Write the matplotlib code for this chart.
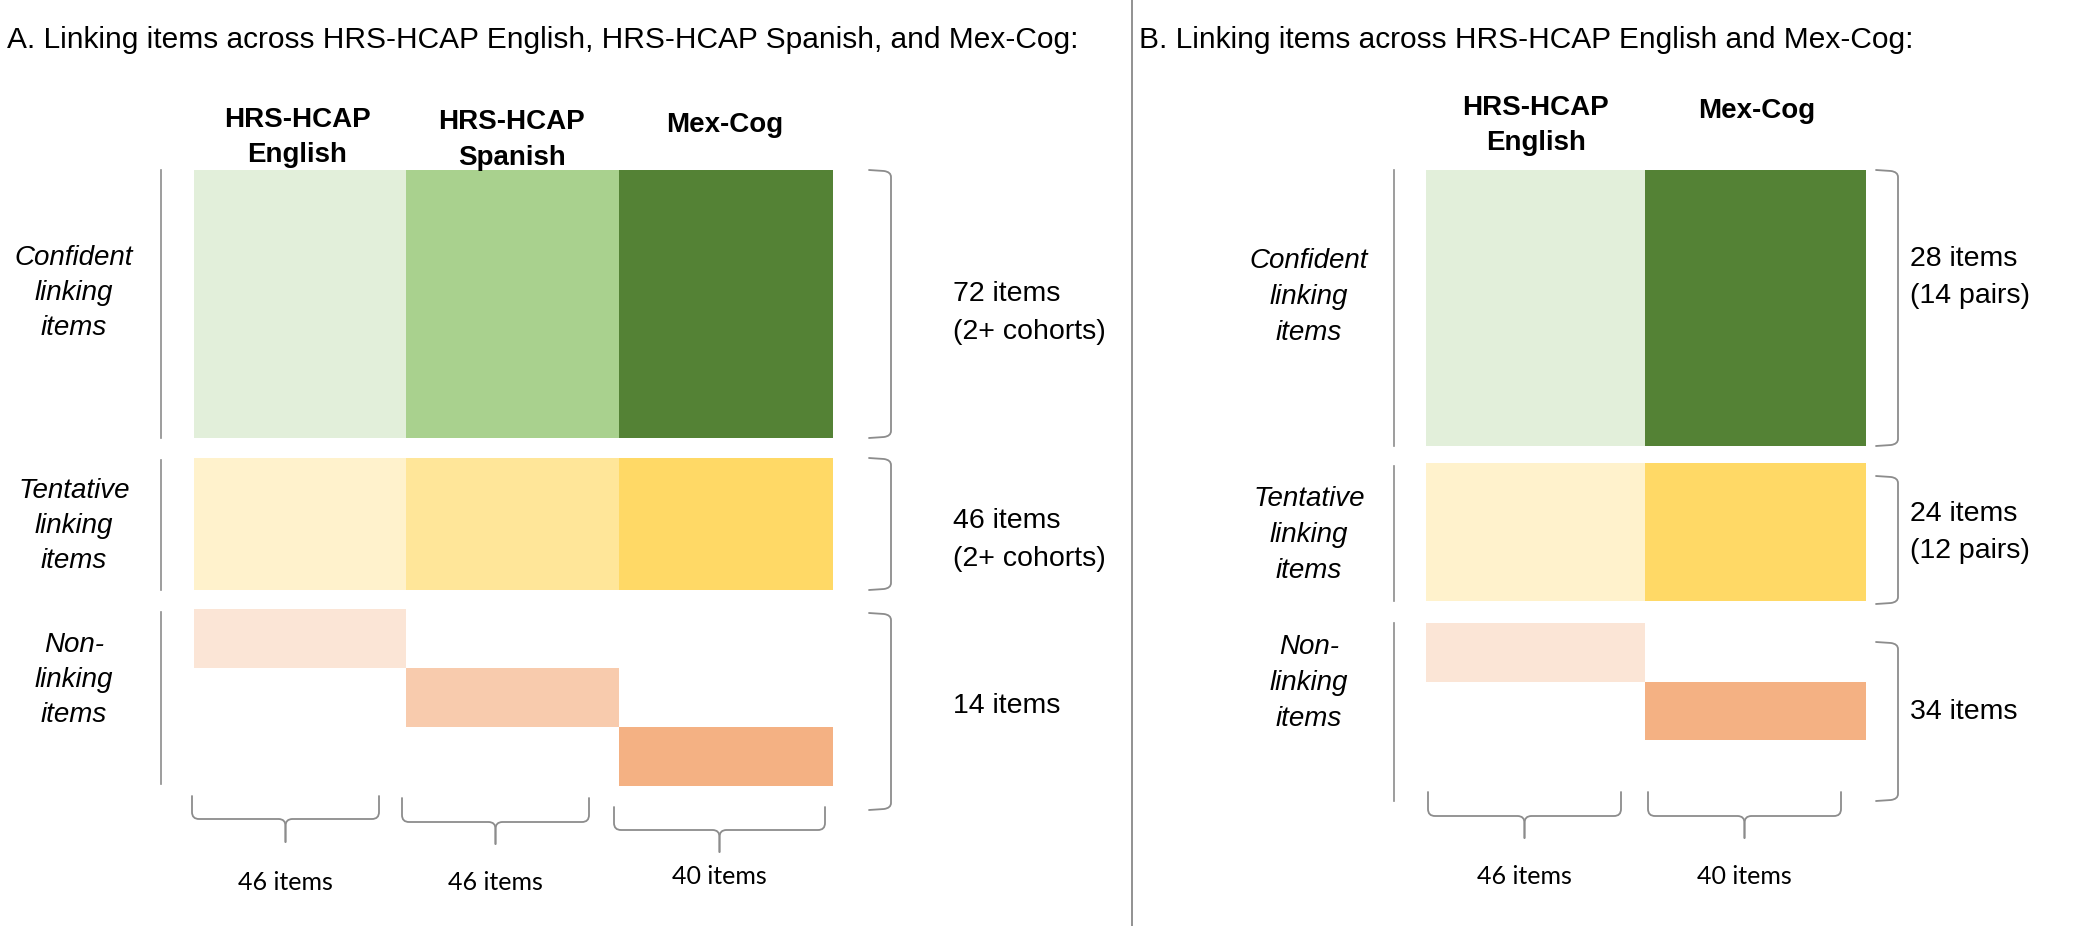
import matplotlib
matplotlib.use("Agg")
import matplotlib.pyplot as plt
from matplotlib.patches import Rectangle, PathPatch
from matplotlib.path import Path

# ---------------- data ----------------
title_A = "A. Linking items across HRS-HCAP English, HRS-HCAP Spanish, and Mex-Cog:"
title_B = "B. Linking items across HRS-HCAP English and Mex-Cog:"
cohorts_A = ["HRS-HCAP\nEnglish", "HRS-HCAP\nSpanish", "Mex-Cog"]
cohorts_B = ["HRS-HCAP\nEnglish", "Mex-Cog"]
cohort_items_A = [46, 46, 40]
cohort_items_B = [46, 40]
tiers = ["Confident\nlinking\nitems", "Tentative\nlinking\nitems", "Non-\nlinking\nitems"]
tier_items_A = [72, 46, 14]
tier_notes_A = ["(2+ cohorts)", "(2+ cohorts)", ""]
tier_items_B = [28, 24, 34]
tier_notes_B = ["(14 pairs)", "(12 pairs)", ""]
greens_A = ["#E2EFDA", "#A9D18E", "#548235"]
yellows_A = ["#FFF2CC", "#FFE699", "#FFD966"]
oranges_A = ["#FBE5D6", "#F8CBAD", "#F4B183"]
greens_B = ["#E2EFDA", "#548235"]
yellows_B = ["#FFF2CC", "#FFD966"]
oranges_B = ["#FBE5D6", "#F4B183"]

# ---------------- canvas (pixel space) ----------------
W, H = 2100, 926
fig = plt.figure(figsize=(W / 100, H / 100), dpi=100)
ax = fig.add_axes([0, 0, 1, 1])
ax.set_xlim(0, W)
ax.set_ylim(H, 0)
ax.axis("off")

ARIAL = ["Liberation Sans", "DejaVu Sans"]
CAL = ["Lato", "DejaVu Sans"]
LINE = "#8c8c8c"


def lines_text(x, baselines, label, **kw):
    for y, s in zip(baselines, label.split("\n")):
        ax.text(x, y, s, va="baseline", **kw)


def rbracket(xh, xv, y0, y1, r=7):
    verts = [(xh, y0), (xv - r, y0 + 1), (xv, y0 + 2), (xv, y0 + r),
             (xv, y1 - r), (xv, y1 - 2), (xv - r, y1 - 1), (xh, y1)]
    codes = [Path.MOVETO, Path.LINETO, Path.CURVE3, Path.CURVE3,
             Path.LINETO, Path.CURVE3, Path.CURVE3, Path.LINETO]
    ax.add_patch(PathPatch(Path(verts, codes), fill=False, ec=LINE, lw=1.3,
                           capstyle="round", joinstyle="round"))


def bbrace(x0, x1, ytop, ybar, ytip, r=7):
    xm = (x0 + x1) / 2
    for xe, sgn in ((x0, 1), (x1, -1)):
        verts = [(xe, ytop), (xe, ybar - r), (xe, ybar), (xe + sgn * r, ybar),
                 (xm - sgn * r, ybar), (xm, ybar), (xm, ybar + r), (xm, ytip)]
        codes = [Path.MOVETO, Path.LINETO, Path.CURVE3, Path.CURVE3,
                 Path.LINETO, Path.CURVE3, Path.CURVE3, Path.LINETO]
        ax.add_patch(PathPatch(Path(verts, codes), fill=False, ec=LINE, lw=1.3,
                               capstyle="round", joinstyle="round"))


def panel(L, cohorts, cohort_items, tier_items, tier_notes, greens, yellows, oranges):
    xs = L["cols"]
    n = len(cohorts)
    (c0, c1), (t0, t1), (n0, n1) = L["rows"]
    for i in range(n):
        ax.add_patch(Rectangle((xs[i], c0), xs[i + 1] - xs[i], c1 - c0, fc=greens[i], ec="none"))
        ax.add_patch(Rectangle((xs[i], t0), xs[i + 1] - xs[i], t1 - t0, fc=yellows[i], ec="none"))
    step = (n1 - n0) / n
    for i in range(n):
        ax.add_patch(Rectangle((xs[i], n0 + i * step), xs[i + 1] - xs[i], step,
                               fc=oranges[i], ec="none"))
    for i, lab in enumerate(cohorts):
        lines_text(L["hdr_x"][i], L["hdr_y"][i], lab, ha="center",
                   fontsize=20, fontweight="bold", family=ARIAL)
    for (y0, y1), lab, ly in zip(L["left_spans"], tiers, L["lab_y"]):
        ax.plot([L["left_x"], L["left_x"]], [y0, y1], color=LINE, lw=1.2)
        lines_text(L["lab_x"], ly, lab, ha="center", fontsize=20,
                   style="italic", family=ARIAL)
    for (y0, y1), cnt, note, ty in zip(L["br_spans"], tier_items, tier_notes, L["txt_y"]):
        rbracket(L["br_x"][0], L["br_x"][1], y0, y1)
        s = f"{cnt} items" + (f"\n{note}" if note else "")
        lines_text(L["txt_x"], ty, s, ha="left", fontsize=20.5, family=ARIAL)
    for i, cnt in enumerate(cohort_items):
        ytop, ybar, ytip = L["bb_y"][i]
        x0, x1 = L["bb_x"][i]
        bbrace(x0, x1, ytop, ybar, ytip)
        ax.text((x0 + x1) / 2, L["bl_y"][i], f"{cnt} items",
                ha="center", va="center", fontsize=18, family=CAL)


LA = dict(
    cols=[194, 406, 619, 833],
    rows=[(170, 438), (458, 590), (609, 786)],
    hdr_x=[297, 512, 725], hdr_y=[(127, 162), (129, 165), (132,)],
    left_x=161, left_spans=[(170, 438), (460, 590), (612, 784)],
    lab_x=74, lab_y=[(265, 300, 335), (498, 533, 568), (652, 687, 722)],
    br_x=(869, 891), br_spans=[(170, 438), (458, 590), (613, 810)],
    txt_x=953, txt_y=[(301, 339), (528, 566), (713,)],
    bb_x=[(192, 379), (402, 589), (614, 825)],
    bb_y=[(796, 819, 842), (798, 822, 844), (807, 830, 852)],
    bl_y=[882, 882, 877],
)
LB = dict(
    cols=[1426, 1645, 1866],
    rows=[(170, 446), (463, 601), (623, 740)],
    hdr_x=[1536, 1757], hdr_y=[(115, 150), (118,)],
    left_x=1394, left_spans=[(170, 446), (466, 601), (623, 801)],
    lab_x=1309, lab_y=[(268, 304, 340), (506, 542, 578), (654, 690, 726)],
    br_x=(1876, 1898), br_spans=[(170, 446), (476, 604), (642, 801)],
    txt_x=1910, txt_y=[(266, 303), (521, 558), (719,)],
    bb_x=[(1428, 1621), (1648, 1841)],
    bb_y=[(792, 816, 838), (792, 816, 838)],
    bl_y=[876, 876],
)

panel(LA, cohorts_A, cohort_items_A, tier_items_A, tier_notes_A, greens_A, yellows_A, oranges_A)
panel(LB, cohorts_B, cohort_items_B, tier_items_B, tier_notes_B, greens_B, yellows_B, oranges_B)

ax.text(7, 40, title_A, ha="left", va="center", fontsize=21.5, family=ARIAL)
ax.text(1139, 40, title_B, ha="left", va="center", fontsize=21.5, family=ARIAL)
ax.plot([1132, 1132], [0, H], color="#7f7f7f", lw=1.2)

fig.savefig("out.png", dpi=100)
